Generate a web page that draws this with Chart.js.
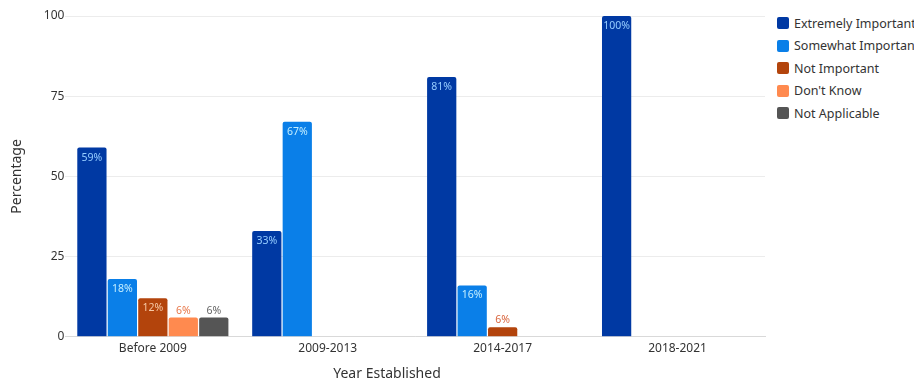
<!DOCTYPE html>
<html>
<head>
<meta charset="utf-8">
<script src="https://cdn.jsdelivr.net/npm/chart.js@4/dist/chart.umd.min.js"></script>
<style>
  body { margin: 0; background: #fff; font-family: "Noto Sans", "Open Sans", sans-serif; }
  #wrap { position: absolute; left: 0; top: 0; width: 774px; height: 382px; }
  #legend { position: absolute; left: 777px; top: 12px; }
  .item { display: flex; align-items: center; height: 22.5px; font-size: 12.5px; color: #333; white-space: nowrap; }
  .box { width: 12px; height: 12px; border-radius: 2px; margin-right: 5px; }
</style>
</head>
<body>
<div id="wrap"><canvas id="chart"></canvas></div>
<div id="legend"></div>
<script>
const categories = ['Before 2009', '2009-2013', '2014-2017', '2018-2021'];
const seriesNames = ['Extremely Important', 'Somewhat Important', 'Not Important', "Don't Know", 'Not Applicable'];
const extremely = [59, 33, 81, 100];
const somewhat = [18, 67, 16, null];
const notImportant = [12, null, 3, null];
const dontKnow = [6, null, null, null];
const notApplicable = [6, null, null, null];
// printed labels (the small 2014-2017 bar is labelled 6%)
const notImportantLabels = ['12%', '', '6%', ''];
const yTicks = [0, 25, 50, 75, 100];

const colors = ['#0039a3', '#0a7fe8', '#b3440c', '#ff8a4f', '#555555'];
const insideColors = ['#95cdff', '#c3eeff', '#f7c9a6', '#fff', '#fff'];
const aboveColors = ['#0039a3', '#0a7fe8', '#d9643c', '#e8784a', '#666666'];

const values = [extremely, somewhat, notImportant, dontKnow, notApplicable];

const barLabels = {
  id: 'barLabels',
  afterDatasetsDraw(chart) {
    const c = chart.ctx;
    c.save();
    c.font = '10.5px "Noto Sans", sans-serif';
    c.textAlign = 'center';
    c.textBaseline = 'middle';
    chart.data.datasets.forEach((ds, i) => {
      chart.getDatasetMeta(i).data.forEach((bar, j) => {
        const v = ds.data[j];
        if (v == null) return;
        const text = i === 2 ? notImportantLabels[j] : v + '%';
        const h = bar.base - bar.y;
        if (h > 22) {
          c.fillStyle = insideColors[i];
          c.fillText(text, bar.x, bar.y + 10);
        } else {
          c.fillStyle = aboveColors[i];
          c.fillText(text, bar.x, bar.y - 7);
        }
      });
    });
    c.restore();
  }
};

const ctx = document.getElementById('chart').getContext('2d');
new Chart(ctx, {
  type: 'bar',
  data: {
    labels: categories,
    datasets: seriesNames.map((name, i) => ({
      label: name,
      data: values[i],
      backgroundColor: colors[i],
      borderRadius: { topLeft: 2, topRight: 2 },
      borderSkipped: 'bottom',
      categoryPercentage: 0.871,
      barPercentage: 0.96
    }))
  },
  options: {
    responsive: true,
    maintainAspectRatio: false,
    animation: false,
    layout: { padding: { top: 16, left: 9, right: 9, bottom: 0 } },
    scales: {
      x: {
        grid: { display: false, drawTicks: false },
        border: { color: '#d9d9d9' },
        ticks: { color: '#333', font: { family: 'Noto Sans', size: 12 }, padding: 5 }
      },
      y: {
        min: 0,
        max: 100,
        afterBuildTicks: (s) => { s.ticks = yTicks.map(v => ({ value: v })); },
        grid: { color: '#ececec', drawTicks: false },
        border: { display: false },
        ticks: { color: '#333', font: { family: 'Noto Sans', size: 12 }, padding: 1 },
        title: { display: true, text: 'Percentage', color: '#333', font: { family: 'Noto Sans', size: 14 }, padding: { top: 0, bottom: 17 } }
      }
    },
    plugins: {
      legend: { display: false },
      tooltip: { enabled: false },
      title: {
        display: true,
        position: 'bottom',
        text: 'Year Established',
        color: '#333',
        font: { family: 'Noto Sans', size: 14, weight: 'normal' },
        padding: { top: 4, bottom: 0 }
      }
    }
  },
  plugins: [barLabels]
});

const legend = document.getElementById('legend');
seriesNames.forEach((name, i) => {
  const row = document.createElement('div');
  row.className = 'item';
  row.innerHTML = '<span class="box" style="background:' + colors[i] + '"></span>' + name;
  legend.appendChild(row);
});
</script>
</body>
</html>
